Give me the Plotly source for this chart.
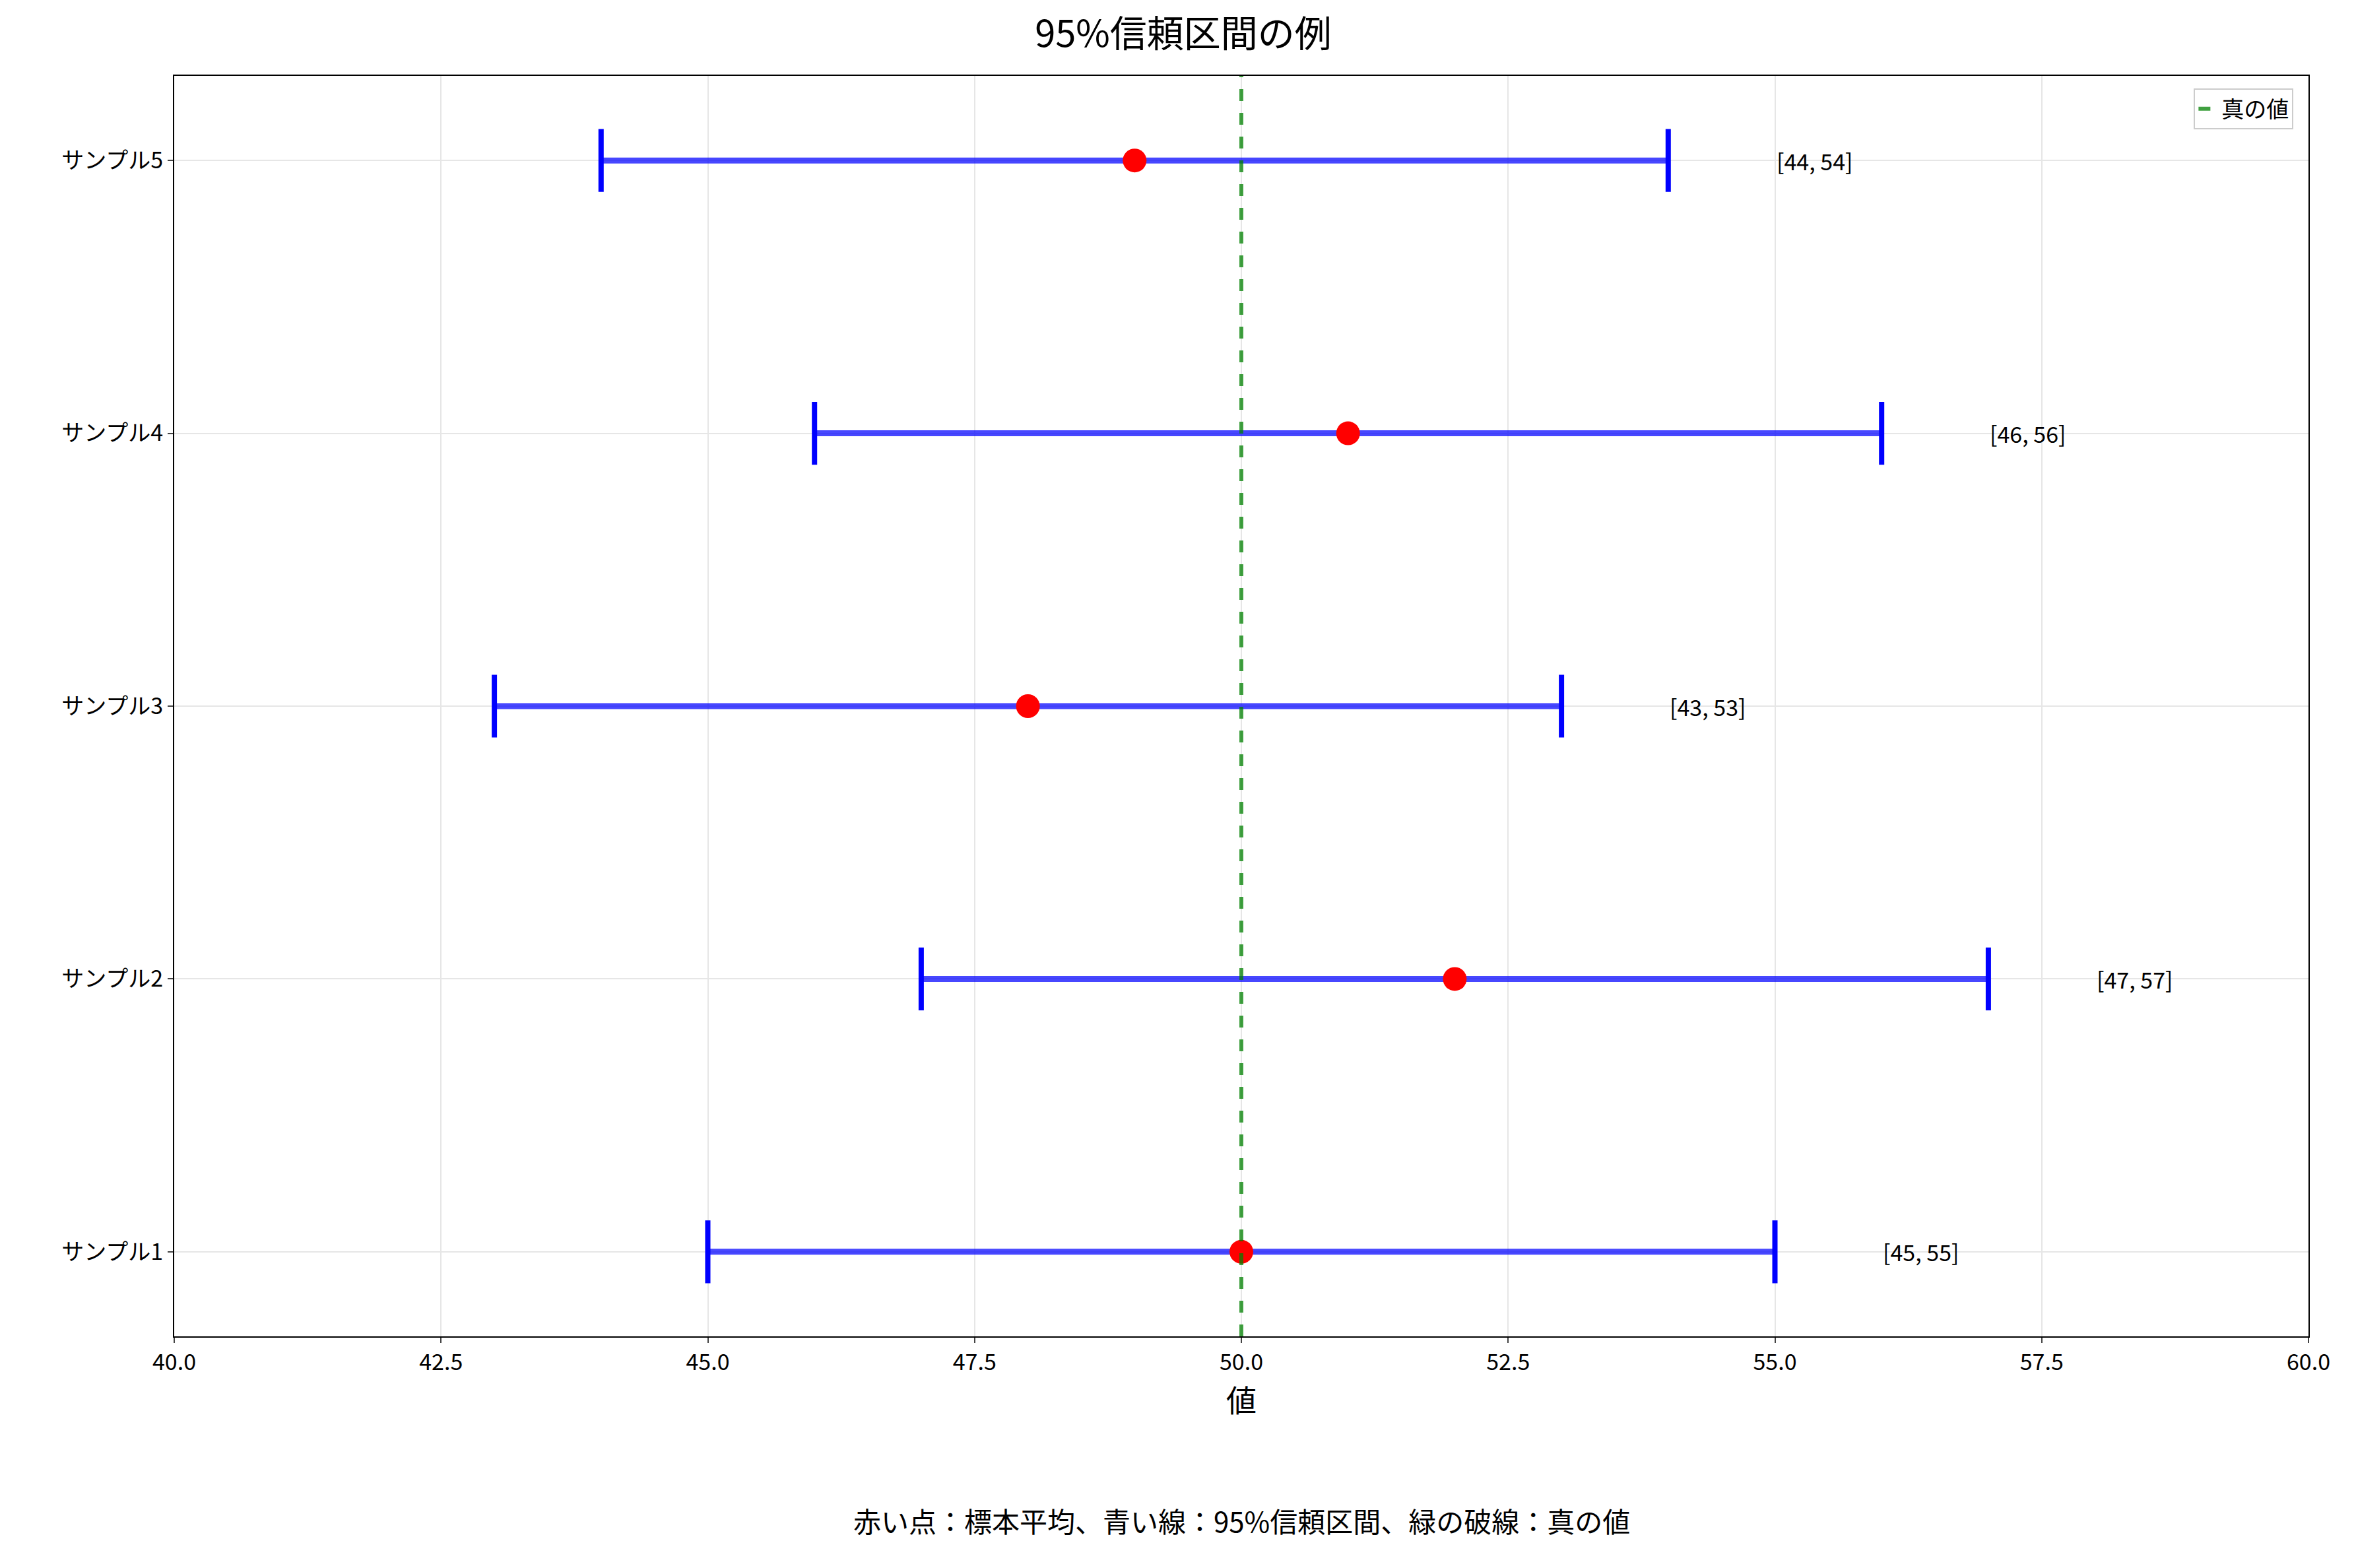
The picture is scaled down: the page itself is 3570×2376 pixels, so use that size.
import plotly.graph_objects as go

samples = ["サンプル1", "サンプル2", "サンプル3", "サンプル4", "サンプル5"]
means = [50, 52, 48, 51, 49]
lows = [45, 47, 43, 46, 44]
highs = [55, 57, 53, 56, 54]
true_value = 50

F = "Noto Sans CJK JP"
fig = go.Figure()
ypos = list(range(len(samples)))
for i in ypos:
    fig.add_trace(go.Scatter(x=[lows[i], highs[i]], y=[i, i], mode="lines",
                             line=dict(color="rgba(0,0,255,0.72)", width=9), showlegend=False))
    fig.add_trace(go.Scatter(x=[lows[i], highs[i]], y=[i, i], mode="markers",
                             marker=dict(symbol="line-ns", size=68, line=dict(color="blue", width=8)),
                             showlegend=False))
fig.add_trace(go.Scatter(x=means, y=ypos, mode="markers",
                         marker=dict(color="red", size=36), showlegend=False))
fig.add_trace(go.Scatter(x=[true_value, true_value], y=[-0.31, 4.31], mode="lines",
                         line=dict(color="rgba(0,128,0,0.75)", width=6, dash="dash"),
                         name="真の値"))
for i in ypos:
    fig.add_annotation(x=highs[i] + 1, y=i, text=f"[{lows[i]}, {highs[i]}]", showarrow=False,
                       xanchor="left", font=dict(size=34, family=F, color="black"))
fig.add_annotation(x=0.5, y=-0.163, xref="paper", yref="paper", showarrow=False,
                   text="赤い点：標本平均、青い線：95%信頼区間、緑の破線：真の値",
                   font=dict(size=42, family=F, color="black"))
fig.update_layout(
    width=3570, height=2376, plot_bgcolor="white", paper_bgcolor="white",
    margin=dict(l=256, r=80, t=107, b=359),
    font=dict(family=F, size=34, color="black"),
    title=dict(text="95%信頼区間の例", x=0.5, xanchor="center", y=0.99, yanchor="top",
               font=dict(size=56, family=F)),
    legend=dict(x=0.993, y=0.99, xanchor="right", yanchor="top", bordercolor="#cccccc",
                borderwidth=2, bgcolor="white", font=dict(size=34)),
    xaxis=dict(range=[40, 60], dtick=2.5, tickformat=".1f", showgrid=True, gridcolor="#e6e6e6",
               gridwidth=2, showline=True, linecolor="black", linewidth=2, mirror=True,
               ticks="outside", ticklen=8, tickwidth=2, zeroline=False,
               title=dict(text="値", font=dict(size=46), standoff=10)),
    yaxis=dict(range=[-0.31, 4.31], tickvals=ypos, ticktext=samples, showgrid=True,
               gridcolor="#e6e6e6", gridwidth=2, showline=True, linecolor="black", linewidth=2,
               mirror=True, ticks="outside", ticklen=8, tickwidth=2, zeroline=False),
)
fig.write_html("out.html")
